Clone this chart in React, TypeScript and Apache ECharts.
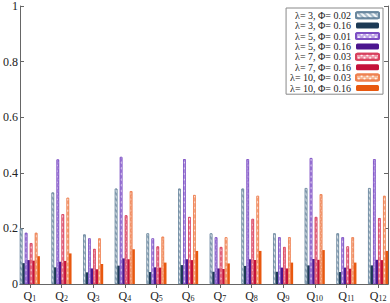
import React, { useEffect, useRef } from "react";
import * as echarts from "echarts";

const categories = ["Q1", "Q2", "Q3", "Q4", "Q5", "Q6", "Q7", "Q8", "Q9", "Q10", "Q11", "Q12"];
const yTicks = [0, 0.2, 0.4, 0.6, 0.8, 1];

const seriesNames = [
  "λ= 3, Φ= 0.02",
  "λ= 3, Φ= 0.16",
  "λ= 5, Φ= 0.01",
  "λ= 5, Φ= 0.16",
  "λ= 7, Φ= 0.03",
  "λ= 7, Φ= 0.16",
  "λ= 10, Φ= 0.03",
  "λ= 10, Φ= 0.16",
];

const l3p02 = [0.2, 0.329, 0.178, 0.343, 0.182, 0.343, 0.182, 0.343, 0.182, 0.345, 0.182, 0.345];
const l3p16 = [0.075, 0.06, 0.042, 0.066, 0.043, 0.068, 0.044, 0.065, 0.044, 0.067, 0.043, 0.067];
const l5p01 = [0.184, 0.448, 0.164, 0.457, 0.164, 0.449, 0.168, 0.449, 0.168, 0.453, 0.168, 0.449];
const l5p16 = [0.086, 0.08, 0.056, 0.092, 0.06, 0.089, 0.056, 0.089, 0.059, 0.09, 0.059, 0.087];
const l7p03 = [0.147, 0.251, 0.126, 0.247, 0.135, 0.241, 0.133, 0.234, 0.133, 0.241, 0.135, 0.237];
const l7p16 = [0.084, 0.083, 0.053, 0.089, 0.059, 0.086, 0.054, 0.086, 0.056, 0.087, 0.055, 0.086];
const l10p03 = [0.184, 0.31, 0.164, 0.334, 0.17, 0.32, 0.168, 0.317, 0.168, 0.323, 0.168, 0.317];
const l10p16 = [0.1, 0.11, 0.072, 0.125, 0.077, 0.119, 0.074, 0.119, 0.077, 0.122, 0.077, 0.119];

const seriesValues = [l3p02, l3p16, l5p01, l5p16, l7p03, l7p16, l10p03, l10p16];

// style per series: [main colour, fill tint, patterned]
const seriesStyles: [string, string, boolean][] = [
  ["#6a879e", "#aabdcc", true],
  ["#1c3a55", "#1c3a55", false],
  ["#7d4fc4", "#c0a8e8", true],
  ["#4b168f", "#4b168f", false],
  ["#d8405e", "#ef9aaa", true],
  ["#c5123a", "#c5123a", false],
  ["#ee8050", "#f7b896", true],
  ["#e8580f", "#e8580f", false],
];

const FONT = "Liberation Serif";
const AXIS = "#666";

export default function App() {
  const ref = useRef<HTMLDivElement>(null);
  useEffect(() => {
    if (!ref.current) return;
    const chart = echarts.init(ref.current, null, { renderer: "svg" });
    const xPositions = categories.map((_, i) => i + 1);
    const xMin = 0.6875;
    const xMax = 12.3125;

    const series = seriesNames.map((name, si) => {
      const [main, tint, patterned] = seriesStyles[si];
      const itemStyle: any = patterned
        ? {
            color: tint,
            borderColor: main,
            borderWidth: 0.7,
            decal: {
              symbol: "rect",
              symbolSize: 1,
              color: "rgba(255,255,255,0.85)",
              backgroundColor: tint,
              dashArrayX: si === 0 ? [1, 0] : [2, 2],
              dashArrayY: [2, 2],
              rotation: Math.PI / 4,
            },
          }
        : { color: main };
      return {
        name,
        type: "bar",
        barWidth: 2.5,
        barGap: "0%",
        xAxisIndex: 0,
        yAxisIndex: 0,
        itemStyle,
        emphasis: { disabled: true },
        data: seriesValues[si].map((v, i) => [xPositions[i], v]),
      };
    });

    chart.setOption({
      animation: false,
      backgroundColor: "#fff",
      grid: { left: 17, right: 2, top: 6, bottom: 19, containLabel: false },
      legend: {
        data: seriesNames,
        orient: "vertical",
        align: "right",
        right: 7,
        top: 8,
        itemWidth: 23,
        itemHeight: 6,
        itemGap: 0,
        padding: [2, 3, 1, 4],
        borderColor: "#888",
        borderWidth: 1,
        backgroundColor: "#fff",
        selectedMode: false,
        textStyle: { fontFamily: FONT, fontSize: 10, color: "#222", lineHeight: 10.4 },
      },
      xAxis: [
        {
          type: "value",
          position: "bottom",
          min: xMin,
          max: xMax,
          splitLine: { show: false },
          axisLine: { show: true, lineStyle: { color: AXIS, width: 1 } },
          axisTick: { show: true, inside: true, length: 4, customValues: xPositions, lineStyle: { color: AXIS } },
          axisLabel: {
            customValues: xPositions,
            margin: 5,
            formatter: (v: number) => {
              const label = categories[Math.round(v) - 1] || "";
              return `{q|Q}{s|${label.slice(1)}}`;
            },
            rich: {
              q: { fontFamily: FONT, fontSize: 12, color: "#222", lineHeight: 13 },
              s: { fontFamily: FONT, fontSize: 8, color: "#222", lineHeight: 8, verticalAlign: "bottom" },
            },
          },
        },
        {
          type: "value",
          position: "top",
          min: xMin,
          max: xMax,
          splitLine: { show: false },
          axisLine: { show: true, lineStyle: { color: AXIS, width: 1 } },
          axisTick: { show: true, inside: true, length: 4, customValues: xPositions, lineStyle: { color: AXIS } },
          axisLabel: { show: false },
        },
      ],
      yAxis: [
        {
          type: "value",
          min: 0,
          max: 1,
          interval: 0.2,
          splitLine: { show: false },
          axisLine: { show: true, lineStyle: { color: AXIS, width: 1 } },
          axisTick: { show: true, inside: true, length: 4, lineStyle: { color: AXIS } },
          axisLabel: {
            margin: 2,
            fontFamily: FONT,
            fontSize: 12,
            color: "#222",
            customValues: yTicks,
            formatter: (v: number) => String(Math.round(v * 10) / 10),
          },
        },
        {
          type: "value",
          position: "right",
          min: 0,
          max: 1,
          interval: 0.2,
          splitLine: { show: false },
          axisLine: { show: true, lineStyle: { color: AXIS, width: 1 } },
          axisTick: { show: true, inside: true, length: 4, lineStyle: { color: AXIS } },
          axisLabel: { show: false },
        },
      ],
      series,
    });
    return () => chart.dispose();
  }, []);
  return (
    <div
      ref={ref}
      style={{ position: "fixed", left: 0, top: 0, width: 390, height: 303 }}
    />
  );
}
